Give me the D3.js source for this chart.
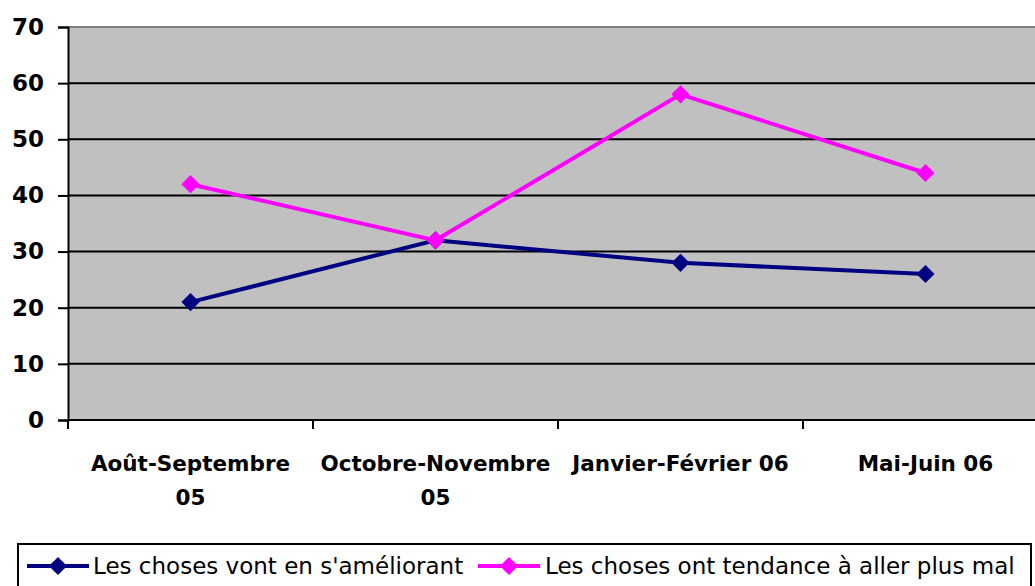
<!DOCTYPE html>
<html><head><meta charset="utf-8">
<script src="https://cdn.jsdelivr.net/npm/d3@7"></script>
<style>body{margin:0;background:#fff;}svg{display:block;}</style>
</head><body>
<script>
const categories = [["Août-Septembre","05"],["Octobre-Novembre","05"],["Janvier-Février 06"],["Mai-Juin 06"]];
const seriesNames = ["Les choses vont en s'améliorant","Les choses ont tendance à aller plus mal"];
const ameliorant = [21, 32, 28, 26];
const plusMal = [42, 32, 58, 44];
const colors = ["#000080", "#FF00FF"];
const yTicks = [0,10,20,30,40,50,60,70];

const W = 1035, H = 586;
const svg = d3.select("body").append("svg").attr("width", W).attr("height", H);
const pL = 68, pR = 1048, pT = 27, pB = 420;
const x = d3.scaleBand().domain(d3.range(categories.length)).range([pL, pR]);
const y = d3.scaleLinear().domain([0, 70]).range([pB, pT]);

svg.append("rect").attr("x", pL).attr("y", pT).attr("width", pR-pL).attr("height", pB-pT).attr("fill", "#C0C0C0");
svg.append("line").attr("x1", pL).attr("x2", pR).attr("y1", pT).attr("y2", pT).attr("stroke", "#808080").attr("stroke-width", 2);

// gridlines
svg.append("g").selectAll("line").data(yTicks.filter(d => d > 0 && d < 70)).join("line")
  .attr("x1", pL).attr("x2", pR).attr("y1", d => y(d)).attr("y2", d => y(d))
  .attr("stroke", "#000").attr("stroke-width", 2);

// y axis
const ya = svg.append("g").attr("transform", `translate(${pL},0)`)
  .call(d3.axisLeft(y).tickValues(yTicks).tickSize(10).tickPadding(14));
ya.select(".domain").attr("stroke", "#000").attr("stroke-width", 2);
ya.selectAll(".tick line").attr("stroke", "#000").attr("stroke-width", 2);
ya.selectAll(".tick text").attr("font-family", "DejaVu Sans").attr("font-weight", "bold").attr("font-size", 23).attr("fill", "#000");

// x axis
svg.append("line").attr("x1", pL).attr("x2", pR).attr("y1", pB).attr("y2", pB).attr("stroke", "#000").attr("stroke-width", 2);
svg.append("g").selectAll("line").data(d3.range(categories.length)).join("line")
  .attr("x1", d => x(d)).attr("x2", d => x(d)).attr("y1", pB).attr("y2", pB + 9)
  .attr("stroke", "#000").attr("stroke-width", 2);

const xl = svg.append("g").selectAll("text").data(categories).join("text")
  .attr("x", (d,i) => x(i) + x.bandwidth()/2).attr("y", 471)
  .attr("text-anchor", "middle").attr("font-family", "DejaVu Sans").attr("font-weight", "bold").attr("font-size", 21.5).attr("fill", "#000");
xl.each(function(d){
  const t = d3.select(this);
  d.forEach((s, k) => t.append("tspan").attr("x", t.attr("x")).attr("dy", k === 0 ? 0 : 34).text(s));
});

// lines
const cx = i => x(i) + x.bandwidth()/2;
const line = d3.line().x((d,i) => cx(i)).y(d => y(d));
const diamond = d3.symbol().type(d3.symbolSquare).size(165);
[ameliorant, plusMal].forEach((data, s) => {
  svg.append("path").datum(data).attr("d", line).attr("fill", "none").attr("stroke", colors[s]).attr("stroke-width", 4);
  svg.append("g").selectAll("path").data(data).join("path")
    .attr("d", diamond).attr("transform", (d,i) => `translate(${cx(i)},${y(d)}) rotate(45)`).attr("fill", colors[s]);
});

// legend
svg.append("rect").attr("x", 18).attr("y", 544).attr("width", 1013).attr("height", 50).attr("fill", "#fff").attr("stroke", "#000").attr("stroke-width", 2);
const legX = [[27, 93], [478, 545]];
seriesNames.forEach((n, s) => {
  const [lx, tx] = legX[s];
  svg.append("line").attr("x1", lx).attr("x2", lx + 62).attr("y1", 566).attr("y2", 566).attr("stroke", colors[s]).attr("stroke-width", 4);
  svg.append("path").attr("d", diamond).attr("transform", `translate(${lx+31},566) rotate(45)`).attr("fill", colors[s]);
  svg.append("text").attr("x", tx).attr("y", 574).attr("font-family", "DejaVu Sans").attr("font-size", 23).attr("fill", "#000").text(n);
});
</script>
</body></html>
